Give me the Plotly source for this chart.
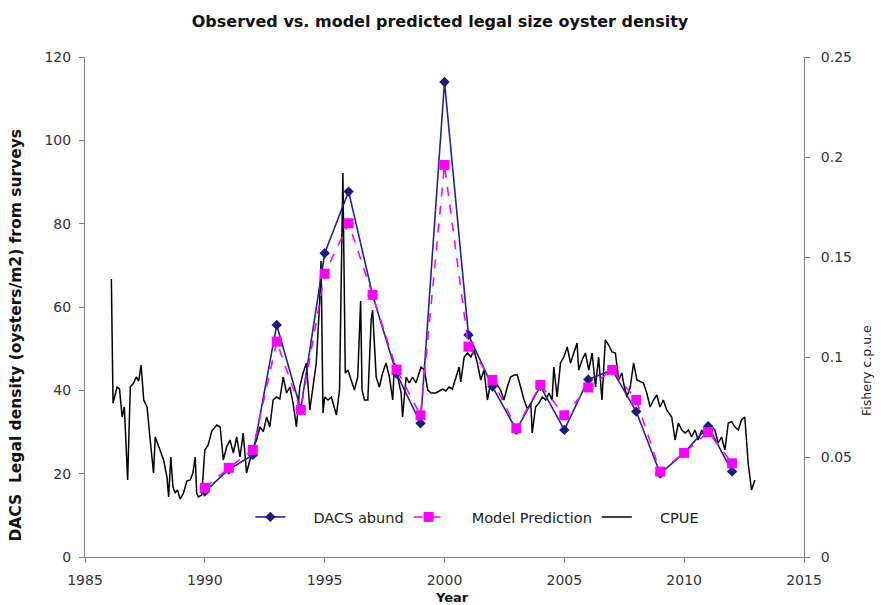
import plotly.graph_objects as go

# ---- Data ----
survey_years = list(range(1990, 2013))
dacs_abund = [15.7, 21.0, 24.5, 55.7, 35.5, 72.9, 87.7, 62.9, 44.0, 32.1, 114.0, 53.3,
              40.9, 30.5, 41.0, 30.5, 42.6, 44.9, 34.9, 20.0, 25.0, 31.4, 20.5]
model_prediction = [16.6, 21.4, 25.7, 51.7, 35.3, 68.0, 80.1, 62.9, 45.0, 34.0, 94.1, 50.5,
                    42.5, 30.9, 41.3, 34.0, 40.7, 44.9, 37.7, 20.5, 25.0, 30.0, 22.5]

cpue_year = [1986.10, 1986.17, 1986.34, 1986.44, 1986.55, 1986.64, 1986.78, 1986.89, 1987.03, 1987.14,
             1987.24, 1987.34, 1987.45, 1987.59, 1987.72, 1987.86, 1987.93, 1988.07, 1988.28, 1988.42,
             1988.49, 1988.58, 1988.67, 1988.76, 1988.86, 1988.97, 1989.11, 1989.25, 1989.39, 1989.50,
             1989.60, 1989.66, 1989.73, 1989.87, 1990.00, 1990.14, 1990.29, 1990.50, 1990.64, 1990.77,
             1990.91, 1991.05, 1991.19, 1991.33, 1991.47, 1991.60, 1991.74, 1991.88, 1992.02, 1992.16,
             1992.30, 1992.44, 1992.58, 1992.71, 1992.85, 1992.99, 1993.13, 1993.27, 1993.41, 1993.55,
             1993.68, 1993.82, 1993.96, 1994.10, 1994.24, 1994.38, 1994.51, 1994.65, 1994.79, 1994.85,
             1994.93, 1995.00, 1995.14, 1995.28, 1995.49, 1995.62, 1995.76, 1995.86, 1995.97, 1996.11,
             1996.24, 1996.38, 1996.50, 1996.56, 1996.66, 1996.80, 1996.94, 1997.00, 1997.15, 1997.28,
             1997.42, 1997.56, 1997.70, 1997.84, 1997.91, 1998.05, 1998.19, 1998.25, 1998.40, 1998.53,
             1998.67, 1998.81, 1999.02, 1999.16, 1999.30, 1999.44, 1999.64, 1999.78, 1999.92, 2000.06,
             2000.19, 2000.33, 2000.47, 2000.61, 2000.68, 2000.82, 2000.96, 2001.10, 2001.23, 2001.37,
             2001.51, 2001.65, 2001.79, 2001.93, 2002.07, 2002.20, 2002.34, 2002.48, 2002.62, 2002.76,
             2002.90, 2003.04, 2003.18, 2003.32, 2003.46, 2003.60, 2003.66, 2003.80, 2003.94, 2004.08,
             2004.22, 2004.36, 2004.49, 2004.56, 2004.70, 2004.84, 2004.98, 2005.12, 2005.26, 2005.40,
             2005.53, 2005.60, 2005.74, 2005.88, 2006.02, 2006.16, 2006.30, 2006.43, 2006.57, 2006.71,
             2006.85, 2006.99, 2007.13, 2007.27, 2007.40, 2007.47, 2007.61, 2007.75, 2007.89, 2008.03,
             2008.17, 2008.30, 2008.44, 2008.58, 2008.72, 2008.86, 2008.99, 2009.13, 2009.27, 2009.48,
             2009.62, 2009.76, 2009.90, 2010.04, 2010.18, 2010.31, 2010.45, 2010.59, 2010.73, 2010.87,
             2011.00, 2011.14, 2011.28, 2011.42, 2011.56, 2011.70, 2011.84, 2011.98, 2012.12, 2012.26,
             2012.39, 2012.53, 2012.67, 2012.81, 2012.95]
cpue_value = [0.139, 0.077, 0.085, 0.084, 0.070, 0.075, 0.0385, 0.085, 0.087, 0.090,
              0.088, 0.096, 0.0785, 0.075, 0.0585, 0.042, 0.060, 0.055, 0.0485, 0.040,
              0.030, 0.050, 0.035, 0.032, 0.0335, 0.029, 0.032, 0.038, 0.0385, 0.042,
              0.050, 0.032, 0.030, 0.031, 0.0535, 0.056, 0.063, 0.066, 0.065, 0.0485,
              0.055, 0.0585, 0.052, 0.060, 0.050, 0.062, 0.042, 0.0485, 0.055, 0.0585,
              0.065, 0.0627, 0.070, 0.065, 0.0785, 0.080, 0.079, 0.090, 0.082, 0.085,
              0.077, 0.065, 0.085, 0.092, 0.097, 0.0735, 0.085, 0.097, 0.127, 0.148,
              0.072, 0.080, 0.0785, 0.080, 0.071, 0.0835, 0.192, 0.092, 0.0935, 0.0885,
              0.0835, 0.090, 0.128, 0.0835, 0.0785, 0.0785, 0.1185, 0.1235, 0.090, 0.085,
              0.092, 0.097, 0.090, 0.0785, 0.097, 0.090, 0.082, 0.070, 0.090, 0.087,
              0.090, 0.087, 0.095, 0.0935, 0.0835, 0.082, 0.082, 0.083, 0.084, 0.083,
              0.085, 0.084, 0.090, 0.095, 0.0875, 0.100, 0.102, 0.100, 0.1035, 0.097,
              0.0885, 0.0935, 0.0785, 0.0875, 0.0885, 0.086, 0.0835, 0.0785, 0.085, 0.090,
              0.091, 0.091, 0.085, 0.0785, 0.074, 0.077, 0.062, 0.075, 0.077, 0.080,
              0.0785, 0.082, 0.0785, 0.095, 0.080, 0.097, 0.100, 0.105, 0.097, 0.102,
              0.107, 0.0935, 0.0985, 0.102, 0.0935, 0.102, 0.085, 0.100, 0.0785, 0.1085,
              0.106, 0.1025, 0.102, 0.0885, 0.092, 0.087, 0.080, 0.085, 0.097, 0.0885,
              0.0875, 0.087, 0.082, 0.075, 0.0785, 0.081, 0.075, 0.0785, 0.0735, 0.070,
              0.0585, 0.067, 0.0635, 0.062, 0.0635, 0.060, 0.0635, 0.0585, 0.0635, 0.060,
              0.067, 0.065, 0.0635, 0.057, 0.060, 0.0535, 0.067, 0.0677, 0.065, 0.0635,
              0.0685, 0.070, 0.047, 0.0335, 0.0385]

title_text = "Observed vs. model predicted legal size oyster density"
left_title = "DACS  Legal density (oysters/m2) from surveys"
right_title = "Fishery c.p.u.e"
x_title = "Year"
legend_names = ["DACS abund", "Model Prediction", "CPUE"]

FONT = "DejaVu Sans, Verdana, sans-serif"
OFF = 8  # page body margin that offsets the plot div
PAGE_W, PAGE_H = 885, 605
W, H = PAGE_W - OFF, PAGE_H - OFF
# plot area on the page (absolute px)
PX0, PX1, PY0, PY1 = 84.5, 804, 57, 557
L, R, T, B = PX0 - OFF, W - (PX1 - OFF), PY0 - OFF, H - (PY1 - OFF)
PW, PH = PX1 - PX0, PY1 - PY0
PAD = "\u00a0" * 5


def px(xa):
    return (xa - PX0) / PW


def py(ya):
    return (PY1 - ya) / PH


fig = go.Figure()

fig.add_trace(go.Scatter(
    x=cpue_year, y=cpue_value, name=PAD + legend_names[2], mode="lines",
    line=dict(color="black", width=1.5), yaxis="y", legendrank=3,
))
fig.add_trace(go.Scatter(
    x=survey_years, y=dacs_abund, name=PAD + legend_names[0], mode="lines+markers",
    line=dict(color="#22229a", width=1.6),
    marker=dict(symbol="diamond", size=8, color="#1a1a80"),
    yaxis="y2", legendrank=1,
))
fig.add_trace(go.Scatter(
    x=survey_years, y=model_prediction, name=PAD + legend_names[1], mode="lines+markers",
    line=dict(color="#ff00ff", width=1.6, dash="dash"),
    marker=dict(symbol="square", size=10, color="#ff00ff"),
    yaxis="y2", legendrank=2,
))

axis_common = dict(
    showgrid=False, zeroline=False, showline=True, linecolor="#808080", linewidth=1,
    ticks="outside", ticklen=5, tickcolor="#808080",
    tickfont=dict(family=FONT, size=14, color="#333333"),
)

fig.update_layout(
    width=W, height=H,
    margin=dict(l=L, r=R, t=T, b=B, autoexpand=False),
    paper_bgcolor="white", plot_bgcolor="white",
    title=dict(text="<b>" + title_text + "</b>", x=(440 - OFF) / W, xref="container",
               xanchor="center", y=1 - (21 - OFF) / H, yanchor="middle",
               font=dict(family=FONT, size=16, color="#111111")),
    xaxis=dict(range=[1985, 2015], dtick=5, tick0=1985, ticklabelstandoff=5, **axis_common),
    yaxis=dict(range=[0, 0.25], dtick=0.05, side="right", ticklabelstandoff=8, **axis_common),
    yaxis2=dict(range=[0, 120], dtick=20, side="left", overlaying="y", ticklabelstandoff=5,
                **axis_common),
    showlegend=True,
    legend=dict(
        orientation="h", x=px(250), xanchor="left",
        y=py(517), yanchor="middle",
        font=dict(family=FONT, size=14.5, color="#222222"),
        bgcolor="rgba(255,255,255,0)", itemwidth=30, tracegroupgap=0,
    ),
    annotations=[
        dict(text="<b>" + left_title + "</b>", textangle=-90, xref="paper", yref="paper",
             x=px(15), y=py(335), xanchor="center", yanchor="middle",
             showarrow=False, font=dict(family=FONT, size=15.5, color="#111111")),
        dict(text=right_title, textangle=-90, xref="paper", yref="paper",
             x=px(866), y=py(370), xanchor="center", yanchor="middle",
             showarrow=False, font=dict(family=FONT, size=12.5, color="#222222")),
        dict(text="<b>" + x_title + "</b>", xref="paper", yref="paper",
             x=px(452), y=py(597), xanchor="center", yanchor="middle",
             showarrow=False, font=dict(family=FONT, size=13, color="#111111")),
    ],
)

fig.write_html("out.html")
